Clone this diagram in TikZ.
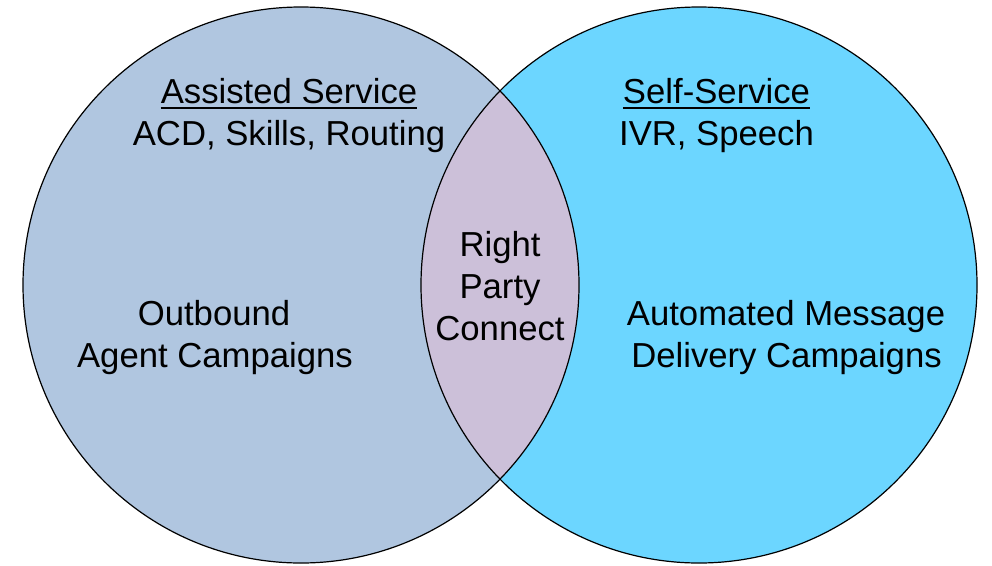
\documentclass[tikz,border=0pt]{standalone}
\usepackage{fontspec}
\setmainfont{Liberation Sans}
\definecolor{assistfill}{RGB}{176,198,224}
\definecolor{selffill}{RGB}{108,214,255}
\definecolor{overlapfill}{RGB}{204,192,217}
\begin{document}
\begin{tikzpicture}[x=1pt,y=-1pt,
  lbl/.style={anchor=base,inner sep=0pt,font=\fontsize{34.7}{42}\selectfont},
  rim/.style={draw=black,line width=1.2pt}]
\useasboundingbox (0,0) rectangle (992,565);
% the two sets
\coordinate (cl) at (301,285);
\coordinate (cr) at (699,285);
\fill[assistfill] (cl) circle[radius=278pt];
\fill[selffill] (cr) circle[radius=278pt];
\begin{scope}
  \clip (cl) circle[radius=278pt];
  \fill[overlapfill] (cr) circle[radius=278pt];
\end{scope}
\draw[rim] (cl) circle[radius=278pt];
\draw[rim] (cr) circle[radius=278pt];
% left set
\node[lbl] (as) at (289,103) {Assisted Service};
\draw[line width=2pt] ([yshift=-4.5pt]as.base west) -- ([yshift=-4.5pt]as.base east);
\node[lbl] (acd) at (289,145) {ACD, Skills, Routing};
\node[lbl] (ob) at (214,325) {Outbound};
\node[lbl] (agc) at (215,367) {Agent Campaigns};
% right set
\node[lbl] (ss) at (716.5,103) {Self-Service};
\draw[line width=2pt] ([yshift=-4.5pt]ss.base west) -- ([yshift=-4.5pt]ss.base east);
\node[lbl] (ivr) at (716.5,145) {IVR, Speech};
\node[lbl] (am) at (786,325) {Automated Message};
\node[lbl] (dc) at (786.5,367) {Delivery Campaigns};
% overlap
\node[lbl] (rt) at (500,256) {Right};
\node[lbl] (pt) at (500,298) {Party};
\node[lbl] (cn) at (500,340) {Connect};
\end{tikzpicture}
\end{document}
